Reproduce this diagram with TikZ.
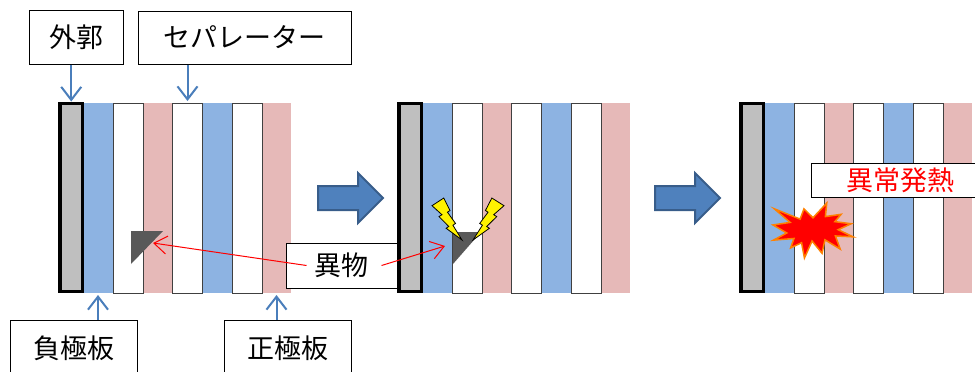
\documentclass[tikz,border=0pt]{standalone}
\usepackage{fontspec}
\newfontfamily\jpfont{Noto Sans CJK JP}
\usetikzlibrary{arrows.meta}

\definecolor{negblue}{HTML}{8DB3E2}
\definecolor{pospink}{HTML}{E6B9B8}
\definecolor{casegray}{HTML}{BFBFBF}
\definecolor{linkblue}{HTML}{4A7EBB}
\definecolor{arrowfill}{HTML}{4F81BD}
\definecolor{arrowedge}{HTML}{385D8A}
\definecolor{dustgray}{HTML}{595959}

\begin{document}
\begin{tikzpicture}[x=1pt,y=-1pt,
  caja/.style={draw,line width=1pt,fill=white,inner sep=0pt,font=\jpfont\fontsize{27}{30}\selectfont},
  strip/.style={inner sep=0pt,outer sep=0pt,minimum height=190pt,anchor=north west},
  sepbox/.style={strip,draw=black!75,line width=1pt,fill=white},
  casing/.style={strip,draw=black,line width=3.5pt,fill=casegray,minimum width=22.5pt,minimum height=188pt},
  link/.style={draw=linkblue,line width=2pt,shorten >=2pt,-{Straight Barb[length=13pt,width=20pt]}},
  pointer/.style={draw=red,line width=1pt,-{Straight Barb[length=13pt,width=18pt]}},
  bigarrow/.style={fill=arrowfill,draw=arrowedge,line width=2pt},
  bolt/.style={fill=yellow,draw=black,line width=0.8pt,line join=miter},
  blast/.style={fill=red,draw=orange,line width=1.5pt},
  % placas, separadores y carcasa de una celda
  celda/.pic={
    \node[strip,fill=negblue,minimum width=30pt] (-neg1) at (25,0) {};
    \node[strip,fill=pospink,minimum width=31pt] (-pos1) at (84,0) {};
    \node[strip,fill=negblue,minimum width=31pt] (-neg2) at (144,0) {};
    \node[strip,fill=pospink,minimum width=29pt] (-pos2) at (204,0) {};
    \node[sepbox,minimum width=30pt] (-sep1) at (55,0) {};
    \node[sepbox,minimum width=30pt] (-sep2) at (114.5,0) {};
    \node[sepbox,minimum width=30pt] (-sep3) at (174.5,0) {};
    \node[casing] (-case) at (2,0.5) {};
  }]
  \useasboundingbox (0,0) rectangle (975,372);
  \clip (0,0) rectangle (975,372);

  % las tres etapas
  \pic (p1) at (58,103) {celda};
  \pic (p2) at (397,103) {celda};
  \pic (p3) at (739,103) {celda};

  % flechas entre etapas
  \foreach \x in {318,655}
    \draw[bigarrow] (\x,186) -- ++(40,0) -- ++(0,-13) -- ++(25,25) -- ++(-25,25)
      -- ++(0,-13) -- ++(-40,0) -- cycle;

  % particula extrana
  \fill[dustgray] (131,231) -- (163,231) -- (131,264) -- cycle;
  \coordinate (dust1) at (153,243);
  \fill[dustgray] (453,232) -- (481,232) -- (453,264) -- cycle;
  \coordinate (dust2) at (445,246);

  % chispas
  \foreach \bx/\bw in {432/30,504/-31}{
    \begin{scope}[shift={(\bx,198)},x=\bw pt,y=-42pt]
      \draw[bolt] (0.392,0) -- (0.6,0.298) -- (0.515,0.338) -- (0.784,0.606) -- (0.697,0.648)
        -- (1,1) -- (0.471,0.721) -- (0.559,0.678) -- (0.233,0.443) -- (0.332,0.398)
        -- (0,0.183) -- cycle;
    \end{scope}
  }

  % explosion
  \begin{scope}[shift={(773,203)},x=80pt,y=-55pt]
    \draw[blast] (0.5,0.269) -- (0.672,0) -- (0.655,0.247) -- (0.851,0.206) -- (0.773,0.339)
      -- (0.977,0.377) -- (0.815,0.485) -- (1,0.615) -- (0.78,0.599) -- (0.84,0.838)
      -- (0.649,0.669) -- (0.613,0.914) -- (0.488,0.691) -- (0.393,1) -- (0.357,0.723)
      -- (0.22,0.816) -- (0.262,0.645) -- (0.006,0.675) -- (0.172,0.545) -- (0,0.399)
      -- (0.214,0.353) -- (0.017,0.106) -- (0.339,0.293) -- (0.387,0.106) -- cycle;
  \end{scope}

  % rotulos
  \node[caja,minimum width=94pt,minimum height=54pt] (gaikaku) at (76,37) {外郭};
  \node[caja,minimum width=213pt,minimum height=53pt] (sepa) at (244.5,37.5) {セパレーター};
  \node[caja,minimum width=127pt,minimum height=56pt] (fukyoku) at (73.5,348) {負極板};
  \node[caja,minimum width=127pt,minimum height=56pt] (seikyoku) at (287.5,348) {正極板};
  \node[caja,minimum width=111pt,minimum height=45pt] (ibutsu) at (341.5,265.5) {異物};
  \node[caja,minimum width=178pt,minimum height=34pt,text=red] (hatsunetsu) at (900,180) {異常発熱};

  % flechas de los rotulos
  \draw[link] (gaikaku.south -| p1-case.north) -- (p1-case.north);
  \draw[link] (sepa.south -| p1-sep2.north) -- (p1-sep2.north);
  \draw[link] (fukyoku.north -| p1-neg1.south) -- (p1-neg1.south);
  \draw[link] (seikyoku.north -| p1-pos2.south) -- (p1-pos2.south);
  \draw[pointer] ([xshift=-35pt]ibutsu.center) -- (dust1);
  \draw[pointer] ([xshift=40pt]ibutsu.center) -- (dust2);
\end{tikzpicture}
\end{document}
